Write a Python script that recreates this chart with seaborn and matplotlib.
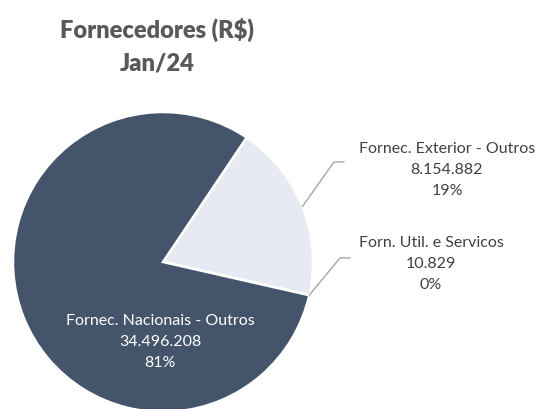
import numpy as np
import matplotlib
matplotlib.use("Agg")
import matplotlib.pyplot as plt
import seaborn as sns

# ---- data ----
categories = ["Fornec. Exterior - Outros", "Forn. Util. e Servicos", "Fornec. Nacionais - Outros"]
values = [8154882, 10829, 34496208]
value_labels = ["8.154.882", "10.829", "34.496.208"]
pct_labels = ["19%", "0%", "81%"]
title_lines = ["Fornecedores (R$)", "Jan/24"]

sns.set_theme(style="white")
plt.rcParams["font.family"] = ["Lato", "DejaVu Sans"]

W, H = 541, 409
fig = plt.figure(figsize=(W / 100, H / 100), dpi=100)
fig.patch.set_facecolor("white")

# pie centre (163, 262) px, radius 150 px
cx, cy, r = 163, 262, 150
ax = fig.add_axes([(cx - r) / W, (H - cy - r) / H, 2 * r / W, 2 * r / H])
ax.set_facecolor("none")

colors = ["#E8EAF3", "#E8EAF3", "#44546A"]
start = 56.1
wedges, _ = ax.pie(values, colors=colors, startangle=start, counterclock=False,
                   radius=1.0, wedgeprops=dict(edgecolor="white", linewidth=1.8))
ax.set_xlim(-1, 1)
ax.set_ylim(-1, 1)
ax.set_aspect("auto")
ax.axis("off")
for w in wedges:
    w.set_clip_on(False)

total = sum(values)
angles = []
a = start
for v in values:
    span = 360 * v / total
    angles.append(np.deg2rad(a - span / 2))
    a -= span

lc = "#A6A6A6"
tc = "#404040"
fs = 11.5
ls = 1.6
outside = {
    0: ((1.14, 0.667), (1.207, 0.667), (1.893, 0.613)),
    1: ((1.18, 0.027), (1.247, 0.027), (1.787, -0.013)),
}
for i, (elb, end, tpos) in outside.items():
    x0, y0 = np.cos(angles[i]), np.sin(angles[i])
    ax.plot([x0, elb[0], end[0]], [y0, elb[1], end[1]], color=lc, lw=1.0, clip_on=False)
    ax.text(tpos[0], tpos[1], f"{categories[i]}\n{value_labels[i]}\n{pct_labels[i]}",
            ha="center", va="center", color=tc, fontsize=fs, linespacing=ls,
            clip_on=False)

ax.text(-0.02, -0.533, f"{categories[2]}\n{value_labels[2]}\n{pct_labels[2]}",
        ha="center", va="center", color="white", fontsize=fs, linespacing=ls)

fig.text(157 / W, 1 - 30 / H, title_lines[0], ha="center", va="center",
         fontsize=17, fontweight="heavy", color="#595959")
fig.text(157 / W, 1 - 63 / H, title_lines[1], ha="center", va="center",
         fontsize=17, fontweight="heavy", color="#595959")

fig.savefig("out.png", dpi=100, facecolor="white")
